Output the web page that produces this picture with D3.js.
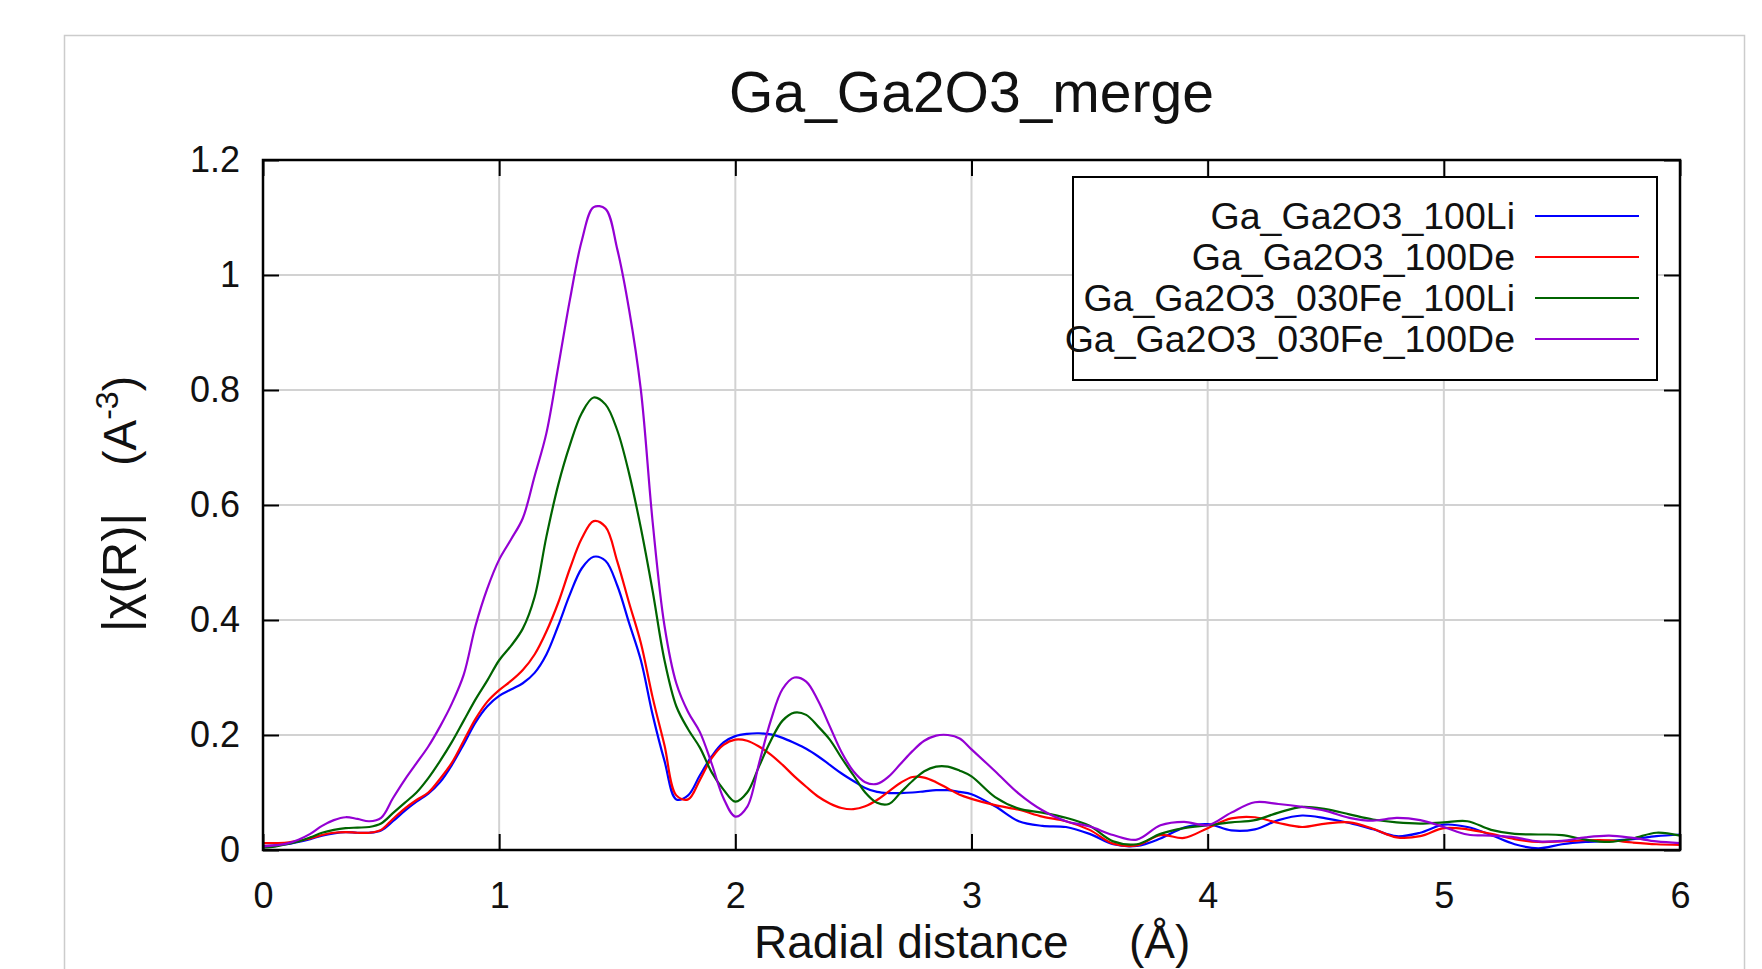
<!DOCTYPE html>
<html>
<head>
<meta charset="utf-8">
<script src="https://cdn.jsdelivr.net/npm/d3@7"></script>
<style>
  html, body { margin: 0; padding: 0; background: #fff; }
  svg { display: block; font-family: "Liberation Sans", Arial, sans-serif; }
</style>
</head>
<body>
<svg id="chart" width="1762" height="969"></svg>
<script>
// ---------------- data ----------------
const chartTitle = "Ga_Ga2O3_merge";
const xTicks = [0, 1, 2, 3, 4, 5, 6];
const yTicks = [0, 0.2, 0.4, 0.6, 0.8, 1.0, 1.2];
const yTickLabels = ["0", "0.2", "0.4", "0.6", "0.8", "1", "1.2"];
const seriesNames = ["Ga_Ga2O3_100Li", "Ga_Ga2O3_100De", "Ga_Ga2O3_030Fe_100Li", "Ga_Ga2O3_030Fe_100De"];

// radial distance grid (Å)
const rValues = [
  0, 0.05, 0.1, 0.15, 0.2, 0.25, 0.3, 0.35, 0.4, 0.45,
  0.5, 0.55, 0.6, 0.65, 0.7, 0.75, 0.8, 0.85, 0.9, 0.95,
  1.0, 1.05, 1.1, 1.15, 1.2, 1.25, 1.3, 1.35, 1.4, 1.45,
  1.5, 1.55, 1.6, 1.65, 1.7, 1.75, 1.8, 1.85, 1.9, 1.95,
  2.0, 2.05, 2.1, 2.15, 2.2, 2.25, 2.3, 2.35, 2.4, 2.45,
  2.5, 2.55, 2.6, 2.65, 2.7, 2.75, 2.8, 2.85, 2.9, 2.95,
  3.0, 3.1, 3.2, 3.3, 3.4, 3.5, 3.6, 3.7, 3.8, 3.9,
  4.0, 4.1, 4.2, 4.3, 4.4, 4.5, 4.6, 4.7, 4.8, 4.9,
  5.0, 5.1, 5.2, 5.3, 5.4, 5.5, 5.6, 5.7, 5.8, 5.9, 6.0
];

const chi100Li = [
  0.007, 0.008, 0.010, 0.014, 0.019, 0.025, 0.029, 0.031, 0.030, 0.030,
  0.034, 0.050, 0.068, 0.084, 0.098, 0.118, 0.148, 0.184, 0.222, 0.250,
  0.268, 0.279, 0.290, 0.308, 0.340, 0.390, 0.445, 0.490, 0.510, 0.503,
  0.460, 0.395, 0.330, 0.235, 0.155, 0.088, 0.095, 0.130, 0.163, 0.187,
  0.198, 0.202, 0.203, 0.201, 0.195, 0.186, 0.176, 0.163, 0.148, 0.133,
  0.120, 0.108, 0.101, 0.099, 0.099, 0.100, 0.102, 0.104, 0.104, 0.101,
  0.097, 0.076, 0.050, 0.042, 0.040, 0.028, 0.010, 0.007, 0.020, 0.039,
  0.045, 0.034, 0.036, 0.052, 0.060, 0.055, 0.047, 0.036, 0.024, 0.030,
  0.044, 0.040, 0.026, 0.010, 0.003, 0.010, 0.014, 0.016, 0.019, 0.024, 0.027
];

const chi100De = [
  0.012, 0.012, 0.013, 0.016, 0.020, 0.026, 0.030, 0.031, 0.030, 0.030,
  0.035, 0.054, 0.072, 0.087, 0.100, 0.124, 0.152, 0.190, 0.228, 0.258,
  0.278, 0.294, 0.313, 0.340, 0.380, 0.430, 0.490, 0.542, 0.572, 0.562,
  0.502, 0.430, 0.360, 0.265, 0.182, 0.095, 0.088, 0.122, 0.160, 0.183,
  0.192, 0.190, 0.180, 0.166, 0.148, 0.128, 0.110, 0.093, 0.081, 0.073,
  0.071, 0.076, 0.087, 0.102, 0.117, 0.127, 0.126, 0.118, 0.107, 0.096,
  0.089, 0.078, 0.070, 0.058, 0.050, 0.035, 0.011, 0.008, 0.026, 0.021,
  0.038, 0.055, 0.057, 0.047, 0.040, 0.046, 0.048, 0.037, 0.022, 0.024,
  0.038, 0.036, 0.028, 0.019, 0.014, 0.015, 0.017, 0.017, 0.013, 0.010, 0.009
];

const chi030Fe100Li = [
  0.004, 0.006, 0.010, 0.015, 0.022, 0.030, 0.035, 0.038, 0.039, 0.040,
  0.046, 0.064, 0.082, 0.100, 0.125, 0.155, 0.188, 0.225, 0.262, 0.295,
  0.330, 0.355, 0.385, 0.440, 0.545, 0.635, 0.705, 0.760, 0.787, 0.775,
  0.730, 0.655, 0.560, 0.450, 0.330, 0.250, 0.210, 0.178, 0.135, 0.105,
  0.084, 0.100, 0.145, 0.190, 0.225, 0.239, 0.235, 0.215, 0.192, 0.160,
  0.130, 0.100, 0.082, 0.080, 0.100, 0.120, 0.137, 0.145, 0.145, 0.138,
  0.128, 0.092, 0.072, 0.065, 0.056, 0.042, 0.015, 0.010, 0.028, 0.038,
  0.043, 0.048, 0.052, 0.065, 0.075, 0.071, 0.062, 0.053, 0.048, 0.046,
  0.048, 0.050, 0.035, 0.028, 0.027, 0.026, 0.018, 0.014, 0.020, 0.030, 0.025
];

const chi030Fe100De = [
  0.006, 0.008, 0.011, 0.018, 0.028, 0.042, 0.052, 0.057, 0.054, 0.050,
  0.056, 0.090, 0.122, 0.151, 0.180, 0.215, 0.255, 0.305, 0.390, 0.455,
  0.505, 0.540, 0.577, 0.650, 0.725, 0.840, 0.958, 1.060, 1.118, 1.115,
  1.045, 0.940, 0.800, 0.570, 0.390, 0.290, 0.240, 0.205, 0.150, 0.090,
  0.058, 0.075, 0.150, 0.225, 0.280, 0.300, 0.293, 0.260, 0.215, 0.170,
  0.137, 0.118, 0.115, 0.128, 0.150, 0.172, 0.190, 0.199, 0.200, 0.194,
  0.175, 0.137, 0.098, 0.069, 0.050, 0.041, 0.026, 0.018, 0.043, 0.049,
  0.043, 0.065, 0.083, 0.080, 0.075, 0.068, 0.056, 0.051, 0.056, 0.052,
  0.040, 0.027, 0.025, 0.022, 0.015, 0.016, 0.022, 0.025, 0.021, 0.015, 0.012
];

const seriesValues = [chi100Li, chi100De, chi030Fe100Li, chi030Fe100De];

// ---------------- styles / layout ----------------
const seriesColors = ["#0000ff", "#ff0000", "#006400", "#9400d3"];
const W = 1762, H = 969;
const plot = { left: 263, right: 1680, top: 160, bottom: 850 };

const svg = d3.select("#chart");
svg.append("rect").attr("width", W).attr("height", H).attr("fill", "#fff");

// outer light frame
svg.append("rect")
  .attr("x", 64.5).attr("y", 35.5)
  .attr("width", 1680).attr("height", 1000)
  .attr("fill", "none").attr("stroke", "#cccccc").attr("stroke-width", 1.5);

const x = d3.scaleLinear().domain([0, 6]).range([plot.left, plot.right]);
const y = d3.scaleLinear().domain([0, 1.2]).range([plot.bottom, plot.top]);

// grid
const grid = svg.append("g").attr("stroke", "#d2d2d2").attr("stroke-width", 2);
grid.selectAll("line.vx").data(xTicks.filter(d => d > 0 && d < 6)).join("line")
  .attr("x1", d => x(d)).attr("x2", d => x(d))
  .attr("y1", plot.top).attr("y2", plot.bottom);
grid.selectAll("line.hy").data(yTicks.filter(d => d > 0 && d < 1.2)).join("line")
  .attr("y1", d => y(d)).attr("y2", d => y(d))
  .attr("x1", plot.left).attr("x2", plot.right);

// curves
svg.append("clipPath").attr("id", "clip").append("rect")
  .attr("x", plot.left).attr("y", plot.top)
  .attr("width", plot.right - plot.left).attr("height", plot.bottom - plot.top);

const line = d3.line()
  .x((d, i) => x(rValues[i]))
  .y(d => y(d))
  .curve(d3.curveCatmullRom.alpha(0.5));

const curves = svg.append("g").attr("clip-path", "url(#clip)");
seriesValues.forEach((vals, k) => {
  curves.append("path")
    .attr("d", line(vals))
    .attr("fill", "none")
    .attr("stroke", seriesColors[k])
    .attr("stroke-width", 2.2)
    .attr("stroke-linejoin", "round");
});

// axes (inward ticks)
const tickLen = 16;
const fontAxis = 36;
const ax = svg.append("g").attr("class", "axes");

const gBottom = ax.append("g").attr("transform", `translate(0,${plot.bottom})`)
  .call(d3.axisBottom(x).tickValues(xTicks).tickFormat(d3.format("d"))
    .tickSizeInner(-tickLen).tickSizeOuter(0).tickPadding(32));
const gLeft = ax.append("g").attr("transform", `translate(${plot.left},0)`)
  .call(d3.axisLeft(y).tickValues(yTicks).tickFormat((d, i) => yTickLabels[i])
    .tickSizeInner(-tickLen).tickSizeOuter(0).tickPadding(23));
const gTop = ax.append("g").attr("transform", `translate(0,${plot.top})`)
  .call(d3.axisTop(x).tickValues(xTicks).tickFormat("")
    .tickSizeInner(-tickLen).tickSizeOuter(0));
const gRight = ax.append("g").attr("transform", `translate(${plot.right},0)`)
  .call(d3.axisRight(y).tickValues(yTicks).tickFormat("")
    .tickSizeInner(-tickLen).tickSizeOuter(0));

[gBottom, gLeft, gTop, gRight].forEach(g => {
  g.select(".domain").remove();
  g.selectAll(".tick line").attr("stroke", "#000").attr("stroke-width", 2);
  g.selectAll("text").attr("font-size", fontAxis).attr("fill", "#111")
    .attr("font-family", "Liberation Sans, Arial, sans-serif");
});

// frame
svg.append("rect")
  .attr("x", plot.left).attr("y", plot.top)
  .attr("width", plot.right - plot.left).attr("height", plot.bottom - plot.top)
  .attr("fill", "none").attr("stroke", "#000").attr("stroke-width", 2.5);

// title
svg.append("text")
  .attr("x", (plot.left + plot.right) / 2).attr("y", 112)
  .attr("text-anchor", "middle").attr("font-size", 57).attr("fill", "#111")
  .text(chartTitle);

// x label
svg.append("text").attr("x", 754).attr("y", 958)
  .attr("font-size", 46).attr("fill", "#111").text("Radial distance");
svg.append("text").attr("x", 1129).attr("y", 958)
  .attr("font-size", 46).attr("fill", "#111").text("(Å)");

// y label (rotated)
const yl = svg.append("g").attr("transform", "translate(136,0) rotate(-90)");
yl.append("text").attr("x", -632).attr("y", 0)
  .attr("font-size", 49).attr("fill", "#111").text("|χ(R)|");
const yl2 = yl.append("text").attr("x", -376).attr("y", 0)
  .attr("text-anchor", "end")
  .attr("font-size", 46).attr("fill", "#111");
yl2.append("tspan").text("(A");
yl2.append("tspan").attr("dy", -18).attr("font-size", 32).text("-3");
yl2.append("tspan").attr("dy", 18).text(")");

// legend
const leg = { x0: 1073, y0: 177, x1: 1657, y1: 380 };
svg.append("rect")
  .attr("x", leg.x0).attr("y", leg.y0)
  .attr("width", leg.x1 - leg.x0).attr("height", leg.y1 - leg.y0)
  .attr("fill", "#fff").attr("stroke", "#000").attr("stroke-width", 2);
const rowY = [216, 257, 298, 339];
seriesNames.forEach((name, k) => {
  svg.append("text")
    .attr("x", 1515).attr("y", rowY[k] + 13)
    .attr("text-anchor", "end").attr("font-size", 37.5).attr("fill", "#111")
    .text(name);
  svg.append("line")
    .attr("x1", 1535).attr("x2", 1639)
    .attr("y1", rowY[k]).attr("y2", rowY[k])
    .attr("stroke", seriesColors[k]).attr("stroke-width", 2.2);
});
</script>
</body>
</html>
